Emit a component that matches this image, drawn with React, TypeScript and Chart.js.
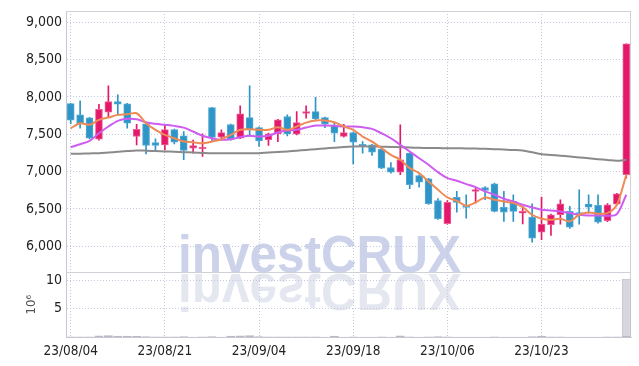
import React, { useEffect, useRef } from 'react';
import { Chart, registerables } from 'chart.js';

Chart.register(...registerables);

// Trading days (YY/MM/DD)
const dates = [
  '23/08/04', '23/08/07', '23/08/08', '23/08/09', '23/08/10', '23/08/11', '23/08/14', '23/08/16', '23/08/17', '23/08/18',
  '23/08/21', '23/08/22', '23/08/23', '23/08/24', '23/08/25', '23/08/28', '23/08/29', '23/08/30', '23/08/31', '23/09/01',
  '23/09/04', '23/09/05', '23/09/06', '23/09/07', '23/09/08', '23/09/11', '23/09/12', '23/09/13', '23/09/14', '23/09/15',
  '23/09/18', '23/09/19', '23/09/20', '23/09/21', '23/09/22', '23/09/25', '23/09/26', '23/09/27', '23/10/04', '23/10/05',
  '23/10/06', '23/10/10', '23/10/11', '23/10/12', '23/10/13', '23/10/16', '23/10/17', '23/10/18', '23/10/19', '23/10/20',
  '23/10/23', '23/10/24', '23/10/25', '23/10/26', '23/10/27', '23/10/30', '23/10/31', '23/11/01', '23/11/02', '23/11/03',
];

const opens = [
  7910, 7759, 7719, 7433, 7794, 7937, 7906, 7469, 7639, 7389,
  7358, 7563, 7478, 7313, 7305, 7857, 7460, 7630, 7446, 7723,
  7589, 7425, 7505, 7737, 7500, 7777, 7803, 7723, 7616, 7469,
  7523, 7366, 7358, 7299, 7055, 6992, 7246, 6948, 6904, 6613,
  6302, 6654, 6545, 6735, 6787, 6837, 6520, 6600, 6443, 6386,
  6190, 6288, 6422, 6466, 6450, 6564, 6547, 6342, 6564, 6957,
];
const highs = [
  7915, 7946, 7725, 7901, 8147, 8027, 7915, 7634, 7645, 7438,
  7626, 7570, 7536, 7420, 7505, 7860, 7559, 7635, 7880, 8147,
  7600, 7515, 7700, 7759, 7803, 7880, 7995, 7730, 7660, 7634,
  7530, 7402, 7365, 7310, 7121, 7626, 7250, 6955, 6910, 6640,
  6610, 6734, 6690, 6778, 6800, 6845, 6734, 6690, 6533, 6569,
  6658, 6430, 6623, 6533, 6757, 6690, 6690, 6570, 6710, 8709,
];
const lows = [
  7640, 7580, 7440, 7420, 7727, 7759, 7580, 7358, 7238, 7282,
  7291, 7370, 7158, 7246, 7202, 7400, 7418, 7420, 7440, 7469,
  7336, 7349, 7402, 7479, 7490, 7714, 7680, 7589, 7402, 7460,
  7104, 7246, 7215, 7040, 6980, 6957, 6770, 6791, 6560, 6360,
  6295, 6457, 6377, 6577, 6623, 6460, 6333, 6333, 6300, 6056,
  6088, 6146, 6297, 6240, 6297, 6443, 6310, 6330, 6555, 6912,
];
const closes = [
  7687, 7639, 7446, 7834, 7937, 7901, 7647, 7567, 7349, 7349,
  7563, 7393, 7282, 7349, 7326, 7456, 7523, 7430, 7773, 7559,
  7412, 7505, 7692, 7505, 7656, 7803, 7706, 7634, 7513, 7523,
  7393, 7345, 7259, 7045, 6992, 7158, 6823, 6858, 6569, 6369,
  6587, 6587, 6520, 6760, 6747, 6466, 6457, 6466, 6466, 6109,
  6297, 6422, 6569, 6257, 6435, 6524, 6323, 6556, 6703, 8709,
];

// Moving averages
const maShort = [
  7580, 7647, 7626, 7692, 7723, 7759, 7767, 7781, 7647, 7559,
  7492, 7446, 7402, 7393, 7380, 7402, 7433, 7492, 7559, 7567,
  7559, 7559, 7594, 7559, 7603, 7656, 7683, 7683, 7660, 7603,
  7559, 7469, 7402, 7313, 7224, 7158, 7046, 6979, 6867, 6757,
  6654, 6609, 6543, 6587, 6654, 6623, 6600, 6578, 6524, 6422,
  6369, 6355, 6369, 6333, 6422, 6453, 6436, 6444, 6556, 6957,
];
const maMid = [
  7326, 7366, 7411, 7513, 7603, 7679, 7706, 7701, 7660, 7639,
  7626, 7612, 7589, 7536, 7479, 7445, 7425, 7433, 7460, 7479,
  7469, 7479, 7523, 7549, 7559, 7589, 7616, 7616, 7612, 7603,
  7603, 7594, 7572, 7513, 7446, 7358, 7269, 7179, 7091, 6992,
  6912, 6877, 6832, 6791, 6734, 6690, 6636, 6600, 6556, 6520,
  6489, 6480, 6466, 6444, 6422, 6413, 6413, 6409, 6431, 6690,
];
const maLong = [
  7238, 7240, 7243, 7246, 7255, 7265, 7275, 7282, 7280, 7275,
  7270, 7265, 7260, 7255, 7250, 7246, 7245, 7245, 7245, 7246,
  7246, 7255, 7262, 7270, 7280, 7290, 7300, 7310, 7320, 7330,
  7336, 7338, 7336, 7334, 7330, 7326, 7322, 7318, 7315, 7314,
  7313, 7312, 7310, 7308, 7305, 7300, 7295, 7290, 7282, 7258,
  7233, 7222, 7212, 7202, 7190, 7178, 7166, 7155, 7144, 7158,
];

// Volume in millions (10^6)
const volumes = [
  0.08, 0.1, 0.09, 0.25, 0.3, 0.22, 0.2, 0.18, 0.12, 0.08,
  0.1, 0.07, 0.12, 0.06, 0.07, 0.15, 0.06, 0.2, 0.25, 0.3,
  0.12, 0.08, 0.1, 0.09, 0.08, 0.07, 0.1, 0.06, 0.2, 0.06,
  0.1, 0.05, 0.06, 0.1, 0.05, 0.25, 0.1, 0.06, 0.1, 0.12,
  0.1, 0.06, 0.05, 0.04, 0.05, 0.08, 0.05, 0.06, 0.04, 0.12,
  0.2, 0.08, 0.07, 0.06, 0.06, 0.05, 0.06, 0.07, 0.1, 10.3,
];

const priceTicks = [6000, 6500, 7000, 7500, 8000, 8500, 9000];
const volumeTicks = [5, 10];
const labelEvery = 10;

const UP = '#e3186b';
const UP_EDGE = '#ef5f95';
const DOWN = '#2f95c6';
const DOWN_EDGE = '#52a9d4';
const GRID = '#c3c8dc';
const FONT = '"DejaVu Sans Condensed", "DejaVu Sans", sans-serif';

function boundaryY(chart: any) {
  return Math.max(chart.scales.y.top, chart.scales.vol.top);
}

const watermarkPlugin = {
  id: 'watermark',
  beforeDraw(chart: any) {
    const ctx = chart.ctx;
    const base = boundaryY(chart);
    const text = 'investCRUX';
    ctx.save();
    ctx.font = 'bold 51px "Liberation Sans", Arial, sans-serif';
    const w = ctx.measureText(text).width;
    const sx = 283 / w;
    ctx.translate(chart.width / 2, base);
    ctx.scale(sx, 1);
    ctx.textAlign = 'center';
    ctx.textBaseline = 'alphabetic';
    ctx.fillStyle = 'rgba(186,195,225,0.75)';
    ctx.fillText(text, 0, 0);
    ctx.scale(1, -1);
    ctx.fillStyle = 'rgba(222,225,236,0.8)';
    ctx.fillText(text, 0, -2);
    ctx.restore();
  },
};

const framePlugin = {
  id: 'frame',
  beforeDatasetsDraw(chart: any) {
    const { ctx, chartArea: a } = chart;
    const b = boundaryY(chart);
    ctx.save();
    ctx.strokeStyle = '#cfd0d8';
    ctx.lineWidth = 1;
    ctx.beginPath();
    ctx.moveTo(a.left, a.top + 0.5);
    ctx.lineTo(a.right, a.top + 0.5);
    ctx.moveTo(a.right - 0.5, a.top);
    ctx.lineTo(a.right - 0.5, a.bottom);
    ctx.moveTo(a.left, Math.round(b) + 0.5);
    ctx.lineTo(a.right, Math.round(b) + 0.5);
    ctx.stroke();
    ctx.restore();
  },
};

export default function App() {
  const ref = useRef<HTMLCanvasElement>(null);

  useEffect(() => {
    document.body.style.margin = '0';
    const up = closes.map((c, i) => c >= opens[i]);
    const fill = up.map((u) => (u ? UP : DOWN));
    const edge = up.map((u) => (u ? UP_EDGE : DOWN_EDGE));

    const chart = new Chart(ref.current as HTMLCanvasElement, {
      type: 'bar',
      data: {
        labels: dates,
        datasets: [
          {
            type: 'line', label: 'MA short', data: maShort, yAxisID: 'y', order: 0,
            borderColor: '#ee8a55', borderWidth: 2, pointRadius: 0, tension: 0.3,
          } as any,
          {
            type: 'line', label: 'MA mid', data: maMid, yAxisID: 'y', order: 0,
            borderColor: '#cf5cf0', borderWidth: 2, pointRadius: 0, tension: 0.35,
          } as any,
          {
            type: 'line', label: 'MA long', data: maLong, yAxisID: 'y', order: 0,
            borderColor: '#8a8a8a', borderWidth: 2, pointRadius: 0, tension: 0.35,
          } as any,
          {
            type: 'bar', label: 'body', yAxisID: 'y', order: 1, grouped: false,
            data: opens.map((o, i) => [o, closes[i]]),
            backgroundColor: fill, borderColor: edge, borderWidth: 1, borderSkipped: false,
            barThickness: 7,
          } as any,
          {
            type: 'bar', label: 'wick', yAxisID: 'y', order: 2, grouped: false,
            data: lows.map((l, i) => [l, highs[i]]),
            backgroundColor: fill, borderWidth: 0, barThickness: 1,
          } as any,
          {
            type: 'bar', label: 'volume', yAxisID: 'vol', order: 3, grouped: false,
            data: volumes,
            backgroundColor: '#d6d6de', borderColor: '#b9b9c6', borderWidth: 1, borderSkipped: false,
            categoryPercentage: 1, barPercentage: 0.95,
          } as any,
        ],
      },
      options: {
        responsive: false,
        maintainAspectRatio: false,
        animation: false,
        layout: { padding: { top: 9, right: 8, left: 0, bottom: 0 } },
        plugins: { legend: { display: false }, tooltip: { enabled: false } },
        scales: {
          x: {
            type: 'category',
            offset: true,
            grid: { offset: false, color: GRID, drawTicks: false, lineWidth: 1 },
            border: { display: true, color: '#c8c8d2', dash: [1, 2] },
            ticks: {
              autoSkip: false, maxRotation: 0, padding: 6, color: '#222',
              font: { family: FONT, size: 13.5 },
              callback: (_v: any, i: number) => (i % labelEvery === 0 ? dates[i] : null),
            },
            afterFit: (s: any) => { s.height = 29; },
          },
          vol: {
            type: 'linear', position: 'left', stack: 'main', stackWeight: 65,
            min: 0, max: 11.4,
            grid: { color: GRID, drawTicks: false, lineWidth: 1 },
            border: { display: true, color: '#c8c8d2', dash: [1, 2] },
            ticks: {
              padding: 4, color: '#222', autoSkip: false,
              font: { family: FONT, size: 14, lineHeight: 1 },
              callback: (v: any) => String(v),
            },
            afterBuildTicks: (s: any) => { s.ticks = volumeTicks.map((v) => ({ value: v })); },
            title: {
              display: true, text: '10⁶', color: '#555',
              font: { family: FONT, size: 13 }, padding: { top: 24, bottom: 0 },
            },
            afterFit: (s: any) => { s.width = 66; },
          },
          y: {
            type: 'linear', position: 'left', stack: 'main', stackWeight: 263,
            min: 5650, max: 9150,
            grid: { color: GRID, drawTicks: false, lineWidth: 1 },
            border: { display: true, color: '#c8c8d2', dash: [1, 2] },
            ticks: {
              padding: 4, color: '#222', autoSkip: false,
              font: { family: FONT, size: 14, lineHeight: 1 },
              callback: (v: any) => Number(v).toLocaleString('en-US'),
            },
            afterBuildTicks: (s: any) => { s.ticks = priceTicks.map((v) => ({ value: v })); },
            afterFit: (s: any) => { s.width = 66; },
          },
        },
      } as any,
      plugins: [watermarkPlugin, framePlugin],
    });
    return () => chart.destroy();
  }, []);

  return (
    <div style={{ width: 639, height: 366 }}>
      <canvas ref={ref} width={639} height={366} style={{ display: 'block' }} />
    </div>
  );
}
